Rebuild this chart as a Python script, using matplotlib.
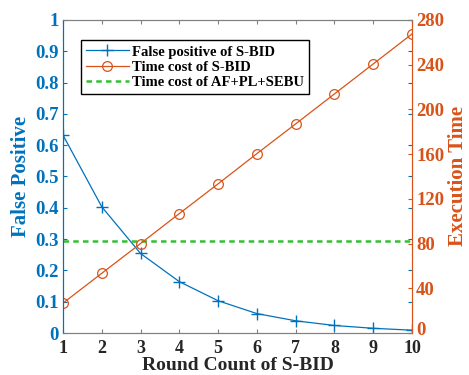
import matplotlib
matplotlib.use("Agg")
import matplotlib.pyplot as plt
import matplotlib.transforms as mtransforms

rounds = [1, 2, 3, 4, 5, 6, 7, 8, 9, 10]
false_positive = [0.632, 0.403, 0.254, 0.164, 0.103, 0.062, 0.039, 0.024, 0.015, 0.009]
time_cost = [26.7, 53.4, 80.0, 106.8, 133.4, 160.4, 187.0, 213.8, 240.6, 267.4]
baseline_fp = 0.293
left_ticks = [0, 0.1, 0.2, 0.3, 0.4, 0.5, 0.6, 0.7, 0.8, 0.9, 1]
left_labels = ["0", "0.1", "0.2", "0.3", "0.4", "0.5", "0.6", "0.7", "0.8", "0.9", "1"]
right_ticks = [0, 40, 80, 120, 160, 200, 240, 280]

BLUE = "#0072BD"
ORANGE = "#D95319"
GREEN = "#33C033"
GRAY = "#262626"
SPINE_GRAY = "#808080"

plt.rcParams["font.family"] = ["Liberation Serif", "DejaVu Serif"]
plt.rcParams["font.weight"] = "bold"

fig = plt.figure(figsize=(4.69, 3.75), dpi=100)
ax = fig.add_axes([0.1343, 0.112, 0.7442, 0.835])
ax2 = ax.twinx()

l1, = ax.plot(rounds, false_positive, color=BLUE, lw=0.9, marker="+", ms=8,
              mew=1.0, label="False positive of S-BID")
l3, = ax.plot([1, 10], [baseline_fp, baseline_fp], color=GREEN, lw=1.8,
              ls=(0, (2.2, 1.7)), label="Time cost of AF+PL+SEBU")
l2, = ax2.plot(rounds, time_cost, color=ORANGE, lw=0.9, marker="o", ms=7,
               mfc="none", mew=0.9, label="Time cost of S-BID")

ax.set_xlim(1, 10)
ax.set_ylim(0, 1)
ax2.set_ylim(0, 280)
ax.set_xticks(rounds)
ax.set_yticks(left_ticks)
ax.set_yticklabels(left_labels)
ax2.set_yticks(right_ticks)

ax.tick_params(axis="x", direction="in", length=3, colors=SPINE_GRAY,
               labelcolor=GRAY, labelsize=13, top=True, pad=5)
ax.tick_params(axis="y", direction="in", length=3, colors=BLUE,
               labelcolor=BLUE, labelsize=13.5, right=True, pad=3)
ax2.tick_params(axis="y", direction="in", length=3, colors=ORANGE,
                labelcolor=ORANGE, labelsize=13.5, pad=3)

# nudge the lowest right-hand label up so it clears the "10" below it
zero_label = ax2.yaxis.get_major_ticks()[0].label2
zero_label.set_transform(zero_label.get_transform()
                         + mtransforms.ScaledTranslation(0, 3 / 72, fig.dpi_scale_trans))

for a in (ax, ax2):
    a.spines["top"].set_color(SPINE_GRAY)
    a.spines["bottom"].set_color(SPINE_GRAY)
    a.spines["left"].set_color(BLUE)
    a.spines["right"].set_color(ORANGE)

ax.set_xlabel("Round Count of S-BID", fontsize=14, color=GRAY, fontweight="bold", labelpad=0)
ax.set_ylabel("False Positive", fontsize=15, color=BLUE, fontweight="bold", labelpad=3)
ax2.set_ylabel("Execution Time", fontsize=15, color=ORANGE, fontweight="bold", labelpad=3)

leg = ax2.legend(handles=[l1, l2, l3], loc="upper left",
                 bbox_to_anchor=(0.052, 0.935), fontsize=10.5, frameon=True,
                 fancybox=False, edgecolor="black", framealpha=1,
                 handlelength=2.9, handletextpad=0.25, borderpad=0.35,
                 labelspacing=0.15, borderaxespad=0)
leg.get_frame().set_linewidth(1.0)

fig.savefig("out.png", dpi=100)
